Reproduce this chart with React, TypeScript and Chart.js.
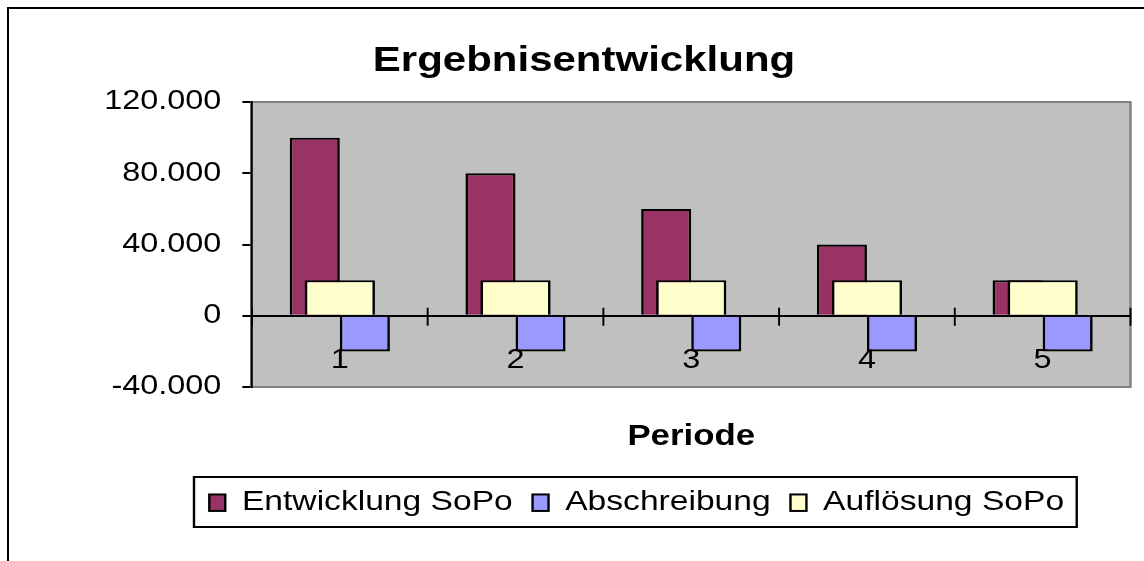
import React, { useEffect, useRef } from "react";
import { Chart, registerables } from "chart.js";

Chart.register(...registerables);

// ---- data ----
const categories = ["1", "2", "3", "4", "5"];
const entwicklungSoPo = [100000, 80000, 60000, 40000, 20000];
const abschreibung = [-20000, -20000, -20000, -20000, -20000];
const aufloesungSoPo = [20000, 20000, 20000, 20000, 20000];
const yMin = -40000;
const yMax = 120000;
const yStep = 40000;
const seriesLabels = ["Entwicklung SoPo", "Abschreibung", "Auflösung SoPo"];
const titleText = "Ergebnisentwicklung";
const xTitle = "Periode";

// ---- layout constants ----
const SX = 1.2; // horizontal stretch of the whole drawing
const W = 960; // logical width
const H = 553; // logical height
const FONT = "'Liberation Sans', Arial, Helvetica, sans-serif";

const fmt = (v: number) => {
  const s = String(Math.abs(v)).replace(/\B(?=(\d{3})+(?!\d))/g, ".");
  return (v < 0 ? "-" : "") + s;
};

const framePlugin = {
  id: "frame",
  beforeDraw(chart: any) {
    const ctx = chart.ctx;
    ctx.setTransform(SX, 0, 0, 1, 0, 0);
    const { left, top, right, bottom } = chart.chartArea;
    ctx.save();
    ctx.fillStyle = "#C0C0C0";
    ctx.fillRect(left, top, right - left, bottom - top);
    ctx.strokeStyle = "#808080";
    ctx.lineWidth = 2;
    ctx.beginPath();
    ctx.moveTo(left, top);
    ctx.lineTo(right, top);
    ctx.lineTo(right, bottom);
    ctx.lineTo(left, bottom);
    ctx.stroke();
    ctx.restore();
  },
  afterDraw(chart: any) {
    const ctx = chart.ctx;
    const xs = chart.scales.x;
    const ys = chart.scales.y;
    const y0 = ys.getPixelForValue(0);
    ctx.save();
    ctx.strokeStyle = "#000";
    ctx.lineWidth = 1.6;
    for (let i = 0; i <= categories.length; i++) {
      const px = xs.getPixelForValue(i - 0.5);
      ctx.beginPath();
      ctx.moveTo(px, y0 - 8);
      ctx.lineTo(px, y0 + 10);
      ctx.stroke();
    }
    ctx.restore();

    // legend box
    const box = { left: 155, top: 469, right: 890.6, bottom: 519 };
    ctx.save();
    ctx.fillStyle = "#FFFFFF";
    ctx.fillRect(box.left, box.top, box.right - box.left, box.bottom - box.top);
    ctx.strokeStyle = "#000";
    ctx.lineWidth = 2;
    ctx.strokeRect(box.left, box.top, box.right - box.left, box.bottom - box.top);
    ctx.font = `28px ${FONT}`;
    ctx.textBaseline = "middle";
    ctx.textAlign = "left";
    const midY = (box.top + box.bottom) / 2;
    let x = 167.75;
    chart.data.datasets.forEach((ds: any) => {
      const mw = 13.3;
      const mh = 16.5;
      ctx.fillStyle = ds.backgroundColor;
      ctx.fillRect(x, midY - mh / 2 + 0.7, mw, mh);
      ctx.lineWidth = 2;
      ctx.strokeStyle = "#000";
      ctx.strokeRect(x, midY - mh / 2 + 0.7, mw, mh);
      x += mw + 13.9;
      ctx.fillStyle = "#000";
      ctx.fillText(ds.label, x, midY);
      x += ctx.measureText(ds.label).width + 16.5;
    });
    ctx.restore();
  },
};

export default function App() {
  const canvasRef = useRef<HTMLCanvasElement | null>(null);

  useEffect(() => {
    const canvas = canvasRef.current;
    if (!canvas) return;
    Chart.defaults.font.family = FONT;
    const chart = new Chart(canvas, {
      type: "bar",
      data: {
        labels: categories,
        datasets: [
          {
            label: seriesLabels[0],
            data: entwicklungSoPo,
            backgroundColor: "#993366",
            borderColor: "#000000",
            borderWidth: 2.2,
            categoryPercentage: 0.57,
            barPercentage: 1,
            order: 0,
          },
          {
            label: seriesLabels[1],
            data: abschreibung,
            backgroundColor: "#9999FF",
            borderColor: "#000000",
            borderWidth: 2.2,
            categoryPercentage: 0.57,
            barPercentage: 1,
            order: 0,
          },
          {
            label: seriesLabels[2],
            data: aufloesungSoPo,
            backgroundColor: "#FFFFCC",
            borderColor: "#000000",
            borderWidth: 2.2,
            grouped: false,
            categoryPercentage: 1,
            barPercentage: 0.4,
            order: -1,
          },
        ] as any,
      },
      options: {
        responsive: false,
        animation: false,
        devicePixelRatio: 1,
        layout: { padding: { left: 0, right: 0, top: 0, bottom: 106.6 } },
        plugins: {
          legend: { display: false },
          tooltip: { enabled: false },
          title: {
            display: true,
            text: titleText,
            color: "#000",
            font: { size: 35, weight: "bold", family: FONT },
            padding: { top: 32, bottom: 20 },
          },
        },
        scales: {
          x: {
            type: "category",
            position: { y: 0 } as any,
            offset: true,
            z: 1,
            grid: { display: false, drawTicks: false, tickLength: 0 },
            border: { display: true, color: "#000", width: 2 },
            ticks: {
              color: "#000",
              font: { size: 27, family: FONT },
              padding: 28.5,
              autoSkip: false,
              maxRotation: 0,
            },
          },
          x2: {
            type: "category",
            position: "bottom",
            offset: true,
            grid: { display: false, drawTicks: false, tickLength: 0 },
            border: { display: false },
            ticks: { display: false },
            title: {
              display: true,
              text: xTitle,
              color: "#000",
              font: { size: 29, weight: "bold", family: FONT },
              padding: 0,
            },
            afterFit: (s: any) => {
              s.height = 67.4;
            },
          },
          y: {
            type: "linear",
            position: "left",
            min: yMin,
            max: yMax,
            ticks: {
              stepSize: yStep,
              color: "#000",
              font: { size: 27, family: FONT },
              padding: 17.5,
              callback: (v: any) => fmt(Number(v)),
            },
            grid: {
              drawOnChartArea: false,
              drawTicks: true,
              tickLength: 8,
              color: "#000",
              lineWidth: 2,
            },
            border: { display: true, color: "#000", width: 2 },
            afterFit: (s: any) => {
              s.width = 203.3;
            },
          },
          y2: {
            type: "linear",
            position: "right",
            grid: { display: false, drawTicks: false, tickLength: 0 },
            border: { display: false },
            ticks: { display: false },
            afterFit: (s: any) => {
              s.width = 24.6;
            },
          },
        } as any,
      },
      plugins: [framePlugin],
    } as any);

    // widen the backing canvas for the horizontal stretch and redraw
    canvas.width = Math.round(W * SX);
    canvas.height = H;
    canvas.style.width = `${Math.round(W * SX)}px`;
    canvas.style.height = `${H}px`;
    chart.draw();

    return () => {
      chart.destroy();
    };
  }, []);

  return (
    <div>
      <div
        style={{
          position: "fixed",
          left: 8,
          top: 8,
          width: 1136,
          height: 553,
          overflow: "hidden",
        }}
      >
        <canvas ref={canvasRef} width={W} height={H} style={{ display: "block" }} />
      </div>
      <div
        style={{
          position: "fixed",
          left: 7,
          top: 7,
          width: 1200,
          height: 600,
          borderLeft: "2px solid #000",
          borderTop: "2px solid #000",
          pointerEvents: "none",
        }}
      />
    </div>
  );
}
